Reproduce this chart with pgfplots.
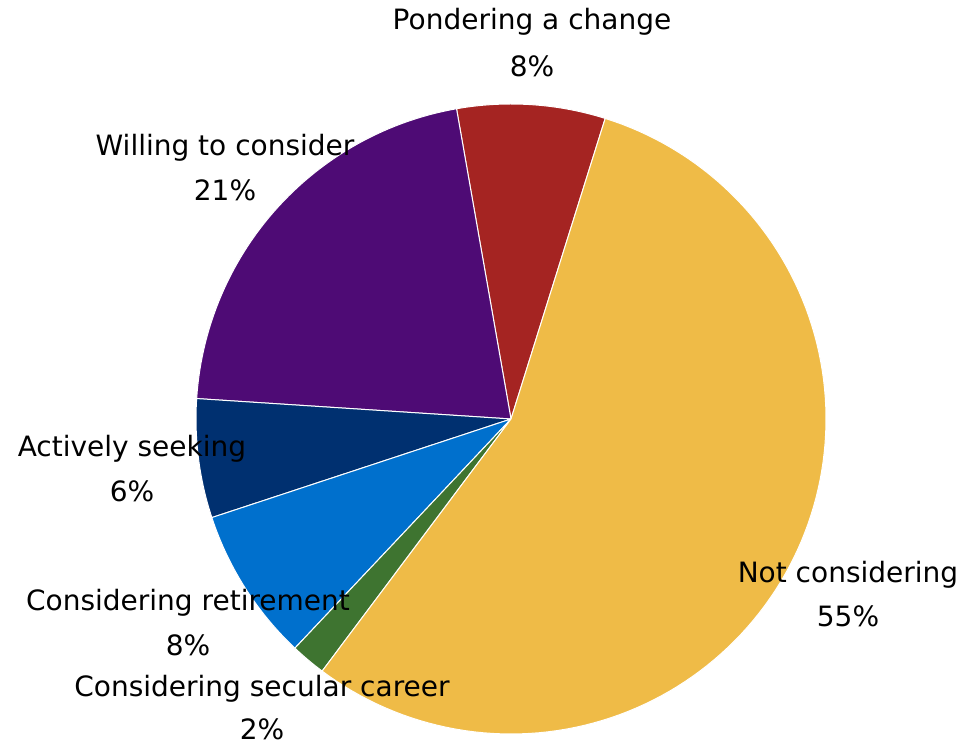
\documentclass[border=0pt]{standalone}
\usepackage{pgfplots}
\pgfplotsset{compat=1.18}
\usepackage{fontspec}
\setmainfont{DejaVu Sans}
\definecolor{cyel}{HTML}{EFBB47}
\definecolor{cred}{HTML}{A52422}
\definecolor{cpur}{HTML}{4E0B75}
\definecolor{cnav}{HTML}{003070}
\definecolor{cblu}{HTML}{0070CD}
\definecolor{cgrn}{HTML}{3E7430}
\begin{document}
\begin{tikzpicture}
\begin{axis}[x=1pt,y=1pt,xmin=0,xmax=978,ymin=0,ymax=743,clip=false,
  axis line style={draw=none},ticks=none]
% slices: start angle, end angle (degrees), from shares 7.6, 21.2, 6.1, 7.9, 1.8, 55.4 %
\def\cx{511}\def\cy{324}\def\r{315}
\addplot[fill=cred,draw=white,line width=1pt,domain=72.6:99.96,samples=40] ({\cx+\r*cos(x)},{\cy+\r*sin(x)}) -- (axis cs:\cx,\cy) -- cycle;
\addplot[fill=cpur,draw=white,line width=1pt,domain=99.96:176.28,samples=60] ({\cx+\r*cos(x)},{\cy+\r*sin(x)}) -- (axis cs:\cx,\cy) -- cycle;
\addplot[fill=cnav,draw=white,line width=1pt,domain=176.28:198.24,samples=30] ({\cx+\r*cos(x)},{\cy+\r*sin(x)}) -- (axis cs:\cx,\cy) -- cycle;
\addplot[fill=cblu,draw=white,line width=1pt,domain=198.24:226.68,samples=30] ({\cx+\r*cos(x)},{\cy+\r*sin(x)}) -- (axis cs:\cx,\cy) -- cycle;
\addplot[fill=cgrn,draw=white,line width=1pt,domain=226.68:233.16,samples=10] ({\cx+\r*cos(x)},{\cy+\r*sin(x)}) -- (axis cs:\cx,\cy) -- cycle;
\addplot[fill=cyel,draw=white,line width=1pt,domain=233.16:432.6,samples=120] ({\cx+\r*cos(x)},{\cy+\r*sin(x)}) -- (axis cs:\cx,\cy) -- cycle;
\tikzset{lab/.style={font=\fontsize{28}{32}\selectfont,text=black,inner sep=0pt}}
\node[lab] at (axis cs:532,721) {Pondering a change};
\node[lab] at (axis cs:532,677) {8\%};
\node[lab] at (axis cs:225,595) {Willing to consider};
\node[lab] at (axis cs:225,553) {21\%};
\node[lab] at (axis cs:132,294) {Actively seeking};
\node[lab] at (axis cs:132,252) {6\%};
\node[lab] at (axis cs:188,140) {Considering retirement};
\node[lab] at (axis cs:188,98) {8\%};
\node[lab] at (axis cs:262,54) {Considering secular career};
\node[lab] at (axis cs:262,14) {2\%};
\node[lab] at (axis cs:848,168) {Not considering};
\node[lab] at (axis cs:848,127) {55\%};
\end{axis}
\end{tikzpicture}
\end{document}
